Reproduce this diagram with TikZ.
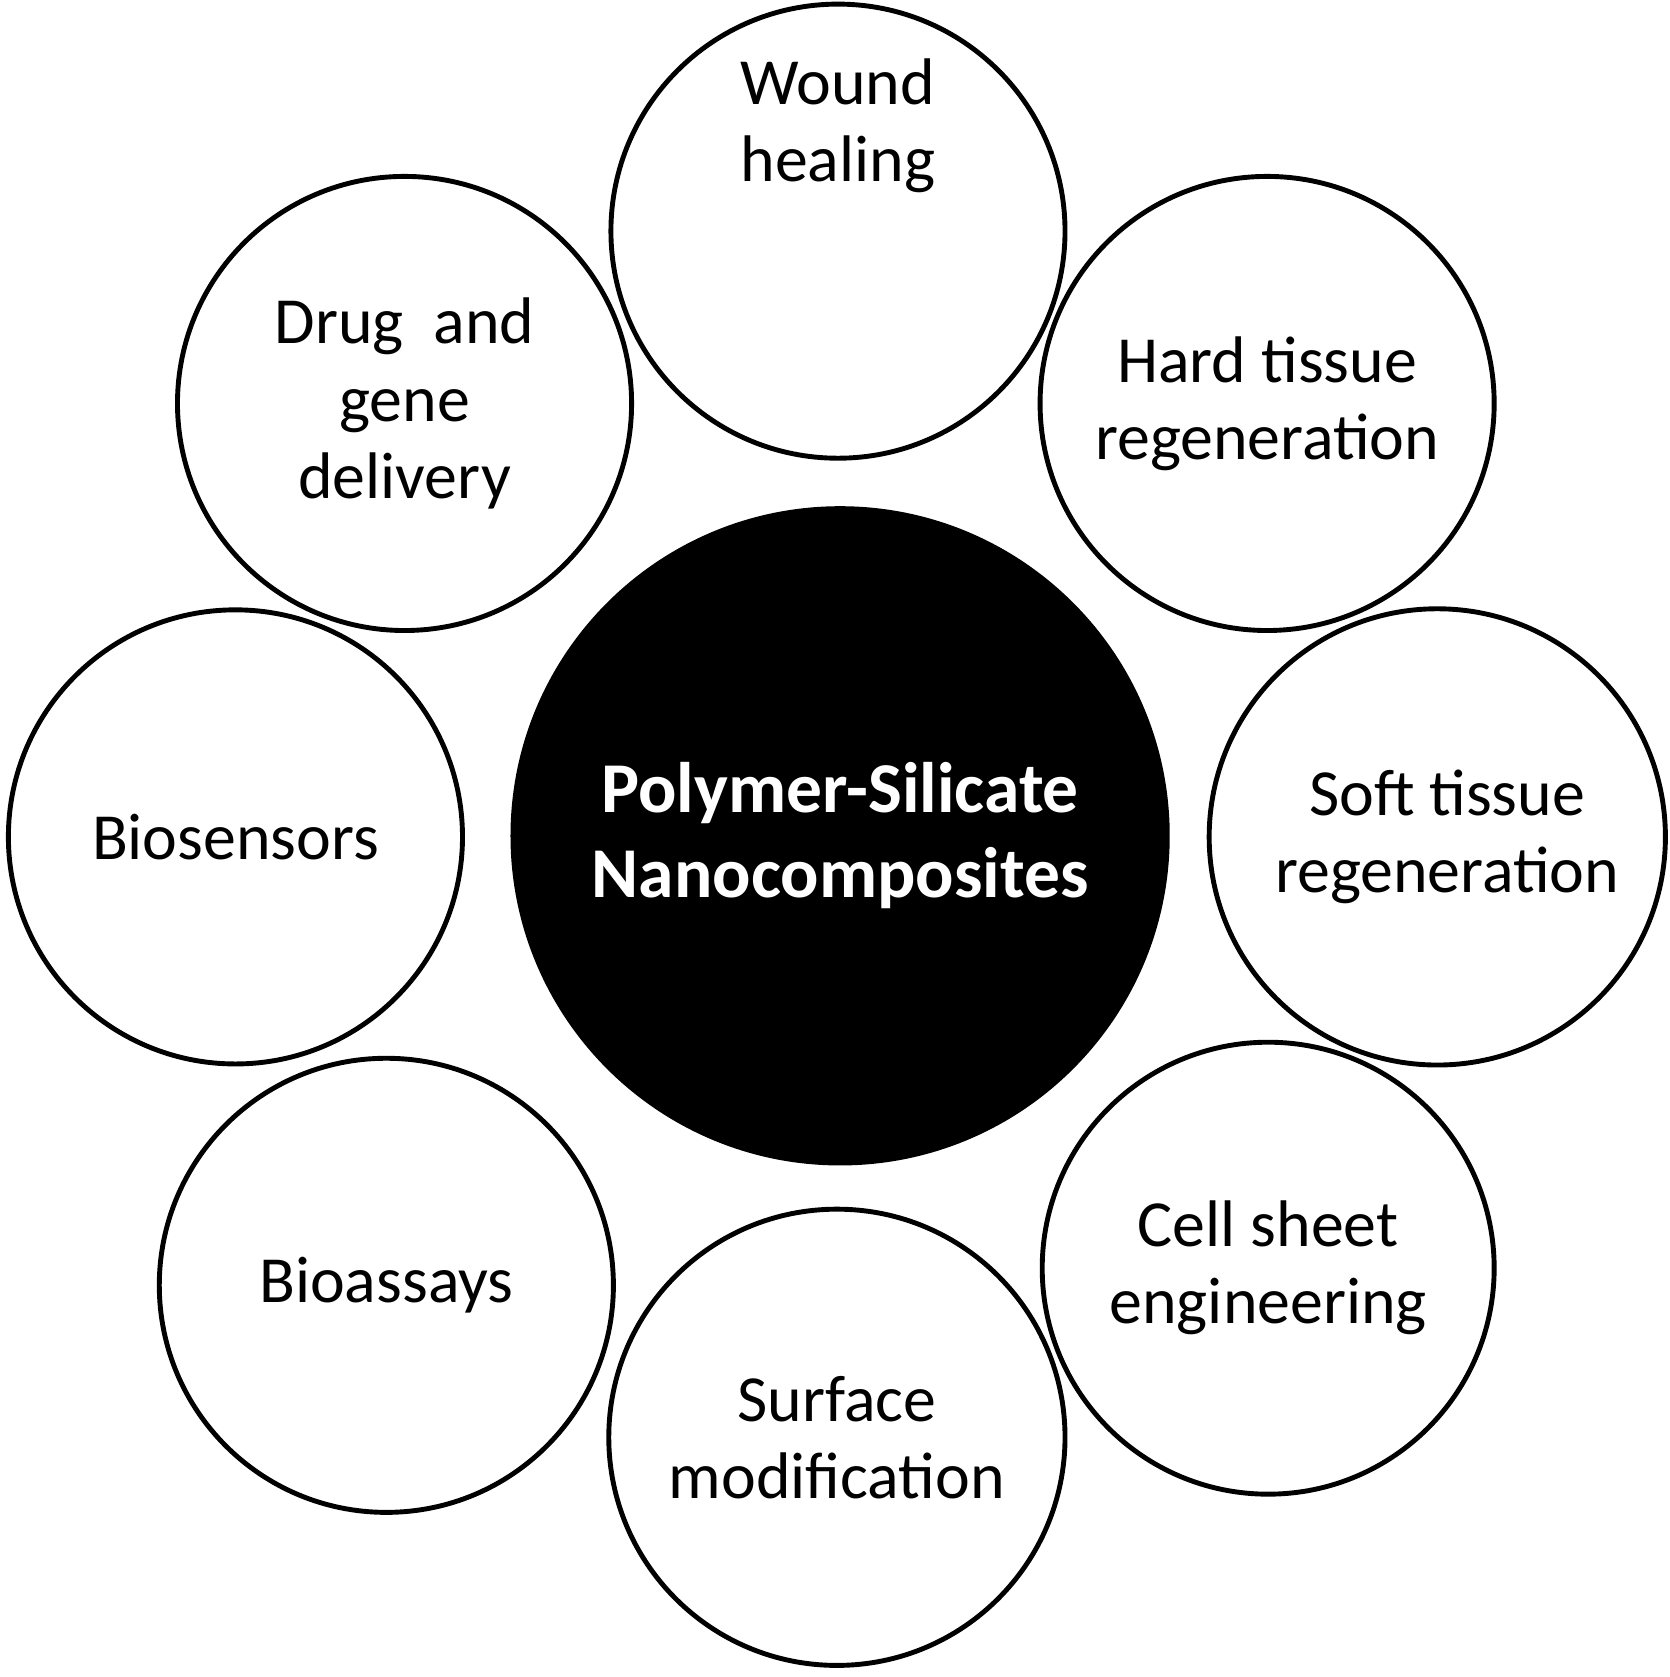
\documentclass[tikz,border=0pt]{standalone}
\usepackage{fontspec}
\setmainfont{Carlito}
\begin{document}
\begin{tikzpicture}[x=0.01cm,y=-0.01cm,
  app/.style={circle,draw=black,line width=1.3pt,fill=white,inner sep=0pt,minimum size=#1*0.02cm,align=center,font=\fontsize{17.5}{20.5}\selectfont},
  hub/.style={circle,fill=black,inner sep=0pt,minimum size=616*0.01cm,align=center,text=white,font=\bfseries\fontsize{19}{22.5}\selectfont}]
\useasboundingbox (0,0) rectangle (1560,1567);
\node[hub] (c) at (785,781) {Polymer-Silicate\\Nanocomposites};
\node[app=212] (w) at (783,216) {Wound\\healing\\[2.2em]};
\node[app=212] (h) at (1184,377) {Hard tissue\\regeneration};
\node[app=213] (s) at (1343,782) {\hspace*{0.3em}Soft tissue\\\hspace*{0.3em}regeneration};
\node[app=211] (ce) at (1185,1185) {Cell sheet\\engineering};
\node[app=213] (su) at (782,1343) {Surface\\modification};
\node[app=212] (ba) at (361,1201) {Bioassays};
\node[app=212] (bs) at (220,782) {Biosensors};
\node[app=212] (d) at (378,377) {Drug~~and\\gene\\delivery};
\end{tikzpicture}
\end{document}
